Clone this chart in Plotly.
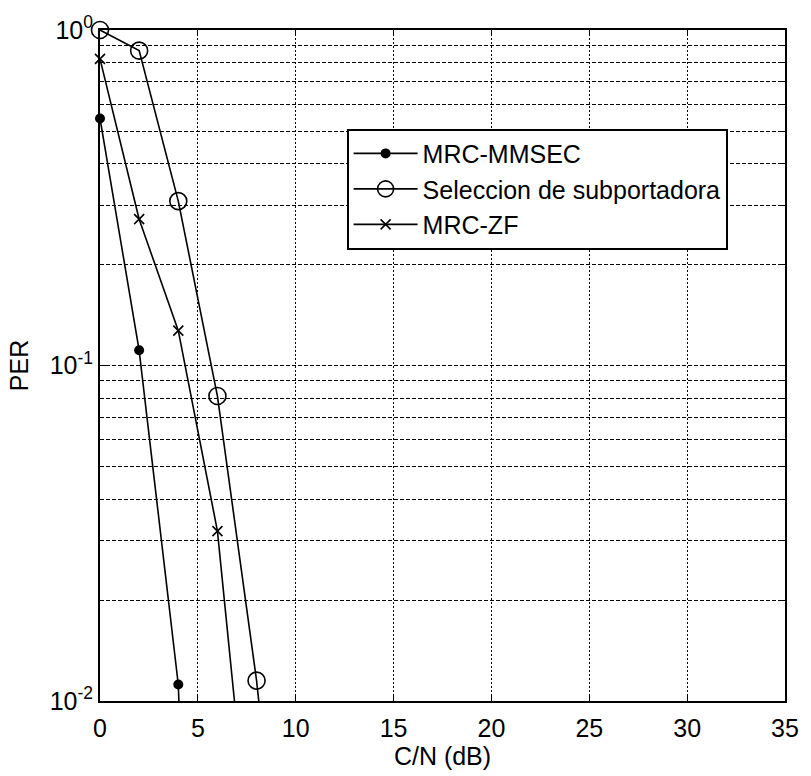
import plotly.graph_objects as go

# C/N sweep (dB) and packet error rate for each receiver scheme
cn_mmsec = [0, 2, 4, 6]
per_mmsec = [0.545, 0.111, 0.0112, 7e-6]

cn_sel = [0, 2, 4, 6, 8, 10]
per_sel = [1.0, 0.868, 0.309, 0.0811, 0.0115, 9.5e-4]

cn_zf = [0, 2, 4, 6, 8]
per_zf = [0.82, 0.273, 0.127, 0.0321, 0.0022]

names = ["MRC-MMSEC", "Seleccion de subportadora", "MRC-ZF"]

x_ticks = [0, 5, 10, 15, 20, 25, 30, 35]
y_ticks = [0.01, 0.1, 1]
y_ticktext = ["10<sup>-2</sup>", "10<sup>-1</sup>", "10<sup>0</sup>"]
y_minor = [0.02, 0.03, 0.04, 0.05, 0.06, 0.07, 0.08, 0.09,
           0.2, 0.3, 0.4, 0.5, 0.6, 0.7, 0.8, 0.9]

FONT = "Liberation Sans, Arial, sans-serif"

fig = go.Figure()
fig.add_trace(go.Scatter(
    x=cn_mmsec, y=per_mmsec, name=names[0], mode="lines+markers",
    line=dict(color="black", width=1.6),
    marker=dict(symbol="circle", size=10, color="black"),
    cliponaxis=False,
))
fig.add_trace(go.Scatter(
    x=cn_sel, y=per_sel, name=names[1], mode="lines+markers",
    line=dict(color="black", width=1.6),
    marker=dict(symbol="circle-open", size=17, color="black",
                line=dict(width=1.6, color="black")),
    cliponaxis=False,
))
fig.add_trace(go.Scatter(
    x=cn_zf, y=per_zf, name=names[2], mode="lines+markers",
    line=dict(color="black", width=1.6),
    marker=dict(symbol="x-thin-open", size=10, color="black",
                line=dict(width=1.6, color="black")),
    cliponaxis=False,
))

fig.update_layout(
    width=811, height=776,
    margin=dict(l=100, r=19, t=29, b=75),
    paper_bgcolor="white", plot_bgcolor="white",
    font=dict(family=FONT, size=25, color="black"),
    showlegend=True,
    legend=dict(
        x=0.36, y=0.853, xanchor="left", yanchor="top",
        bgcolor="white", bordercolor="black", borderwidth=2,
        font=dict(family=FONT, size=25, color="black"),
        itemwidth=64, tracegroupgap=0,
    ),
    xaxis=dict(
        range=[0, 35], tickvals=x_ticks, ticktext=[str(v) for v in x_ticks],
        showline=True, linecolor="black", linewidth=2, mirror="ticks",
        ticks="inside", ticklen=6, tickcolor="black", tickwidth=1,
        ticklabelstandoff=4,
        showgrid=True, gridcolor="black", gridwidth=1, griddash="2px,2px",
        zeroline=False,
        title=dict(text="C/N (dB)", font=dict(size=25), standoff=4),
    ),
    yaxis=dict(
        type="log", range=[-2, 0],
        tickmode="array", tickvals=y_ticks, ticktext=y_ticktext,
        showline=True, linecolor="black", linewidth=2, mirror="ticks",
        ticks="inside", ticklen=6, tickcolor="black", tickwidth=1,
        showgrid=True, gridcolor="black", gridwidth=1, griddash="4px,2px",
        minor=dict(tickmode="array", tickvals=y_minor, ticks="inside",
                   ticklen=4, tickcolor="black", showgrid=True,
                   gridcolor="black", gridwidth=1, griddash="4px,2px"),
        zeroline=False,
        title=dict(text="PER", font=dict(size=25), standoff=14),
    ),
)

fig.write_html("out.html")
